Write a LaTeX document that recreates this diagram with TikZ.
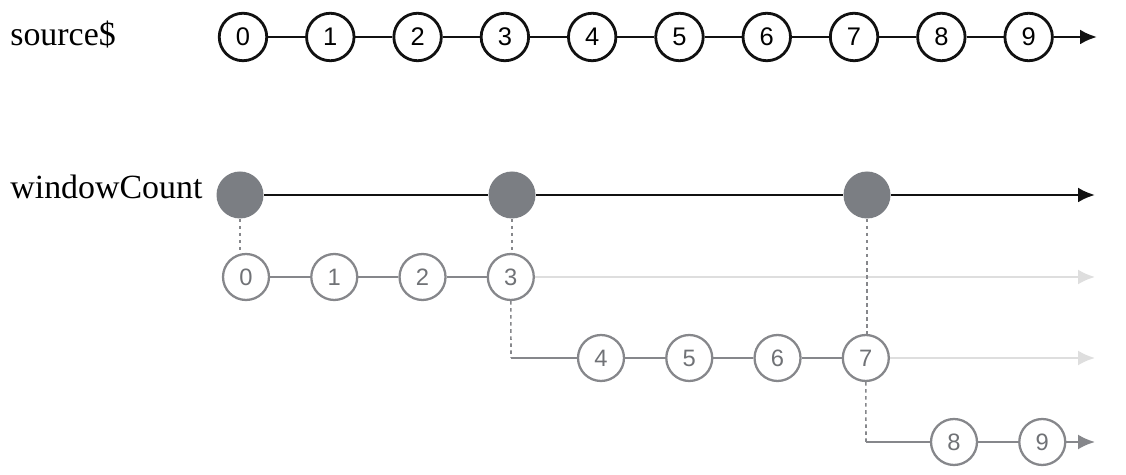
\documentclass[tikz,border=0pt]{standalone}
\usepackage{fontspec}
\setmainfont{Liberation Serif}
\setsansfont{Liberation Sans}
\usetikzlibrary{arrows.meta,positioning}
\definecolor{marbleink}{HTML}{111111}
\definecolor{marblegray}{HTML}{86878B}
\definecolor{digitgray}{HTML}{707276}
\definecolor{dotgray}{HTML}{7B7E83}
\definecolor{fadegray}{HTML}{DEDEDE}
\tikzset{
  streamlabel/.style={
    inner sep=0pt,
    font=\fontsize{19.3}{19.3}\selectfont
  },
  marble/.style={
    circle,
    draw=marbleink,
    fill=white,
    line width=1.6pt,
    minimum size=0.95cm,
    inner sep=0pt,
    font=\sffamily\fontsize{14.5}{14.5}\selectfont
  },
  innermarble/.style={
    circle,
    draw=marblegray,
    fill=white,
    text=digitgray,
    line width=1.3pt,
    minimum size=0.92cm,
    inner sep=0pt,
    font=\sffamily\fontsize{13.5}{13.5}\selectfont
  },
  windowdot/.style={
    circle,
    fill=dotgray,
    minimum size=0.94cm,
    inner sep=0pt
  },
  timeline/.style={
    line width=1.5pt,
    draw=marbleink
  },
  innerline/.style={
    line width=1.3pt,
    draw=marblegray
  },
  fadeline/.style={
    line width=1.3pt,
    draw=fadegray
  },
  dropline/.style={
    line width=0.9pt,
    draw=marblegray,
    dash pattern=on 2pt off 2pt
  },
  tip/.style={
    -{Latex[length=3.4mm,width=3mm]}
  }
}
\begin{document}
\begin{tikzpicture}[x=0.02cm, y=-0.02cm, node distance=0.74cm]
\useasboundingbox (0,0) rectangle (1126,475);
% labels
\node[streamlabel, anchor=base west] (srclabel) at (10,46) {source\$};
\node[streamlabel, anchor=base west] (wclabel) at (10,199) {windowCount};
% source$ row
\node[marble] (s0) at (243,37) {0};
\node[marble, right=of s0] (s1) {1};
\node[marble, right=of s1] (s2) {2};
\node[marble, right=of s2] (s3) {3};
\node[marble, right=of s3] (s4) {4};
\node[marble, right=of s4] (s5) {5};
\node[marble, right=of s5] (s6) {6};
\node[marble, right=of s6] (s7) {7};
\node[marble, right=of s7] (s8) {8};
\node[marble, right=of s8] (s9) {9};
\coordinate (srcend) at (1097,37);
\draw[timeline] (s0) -- (s1) -- (s2) -- (s3) -- (s4) -- (s5) -- (s6) -- (s7) -- (s8) -- (s9);
\draw[timeline, tip] (s9) -- (srcend);
% windowCount row
\node[windowdot] (w0) at (240,195) {};
\node[windowdot] (w1) at (512,195) {};
\node[windowdot] (w2) at (867,195) {};
\coordinate (wcend) at (1095,195);
\draw[timeline] (w0) -- (w1) -- (w2);
\draw[timeline, tip] (w2) -- (wcend);
% first window
\begin{scope}[node distance=0.8cm]
\node[innermarble] (a0) at (246,277) {0};
\node[innermarble, right=of a0] (a1) {1};
\node[innermarble, right=of a1] (a2) {2};
\node[innermarble, right=of a2] (a3) {3};
\coordinate (aend) at (1095,277);
\draw[innerline] (a0) -- (a1) -- (a2) -- (a3);
\draw[fadeline, tip] (a3) -- (aend);
\draw[dropline] (w0) -- (w0 |- a0.north);
\draw[dropline] (w1) -- (w1 |- a3.north);
% second window
\coordinate (b0) at (511,358);
\node[innermarble] (b1) at (601,358) {4};
\node[innermarble, right=of b1] (b2) {5};
\node[innermarble, right=of b2] (b3) {6};
\node[innermarble, right=of b3] (b4) {7};
\coordinate (bend) at (1095,358);
\draw[dropline] (a3) -- (b0);
\draw[innerline] (b0) -- (b1) -- (b2) -- (b3) -- (b4);
\draw[fadeline, tip] (b4) -- (bend);
\draw[dropline] (w2) -- (w2 |- b4.north);
% third window
\coordinate (c0) at (866,442);
\node[innermarble] (c1) at (954,442) {8};
\node[innermarble, right=of c1] (c2) {9};
\coordinate (cend) at (1095,442);
\draw[dropline] (b4) -- (c0);
\draw[innerline] (c0) -- (c1) -- (c2);
\draw[innerline, tip] (c2) -- (cend);
\end{scope}
\end{tikzpicture}
\end{document}
